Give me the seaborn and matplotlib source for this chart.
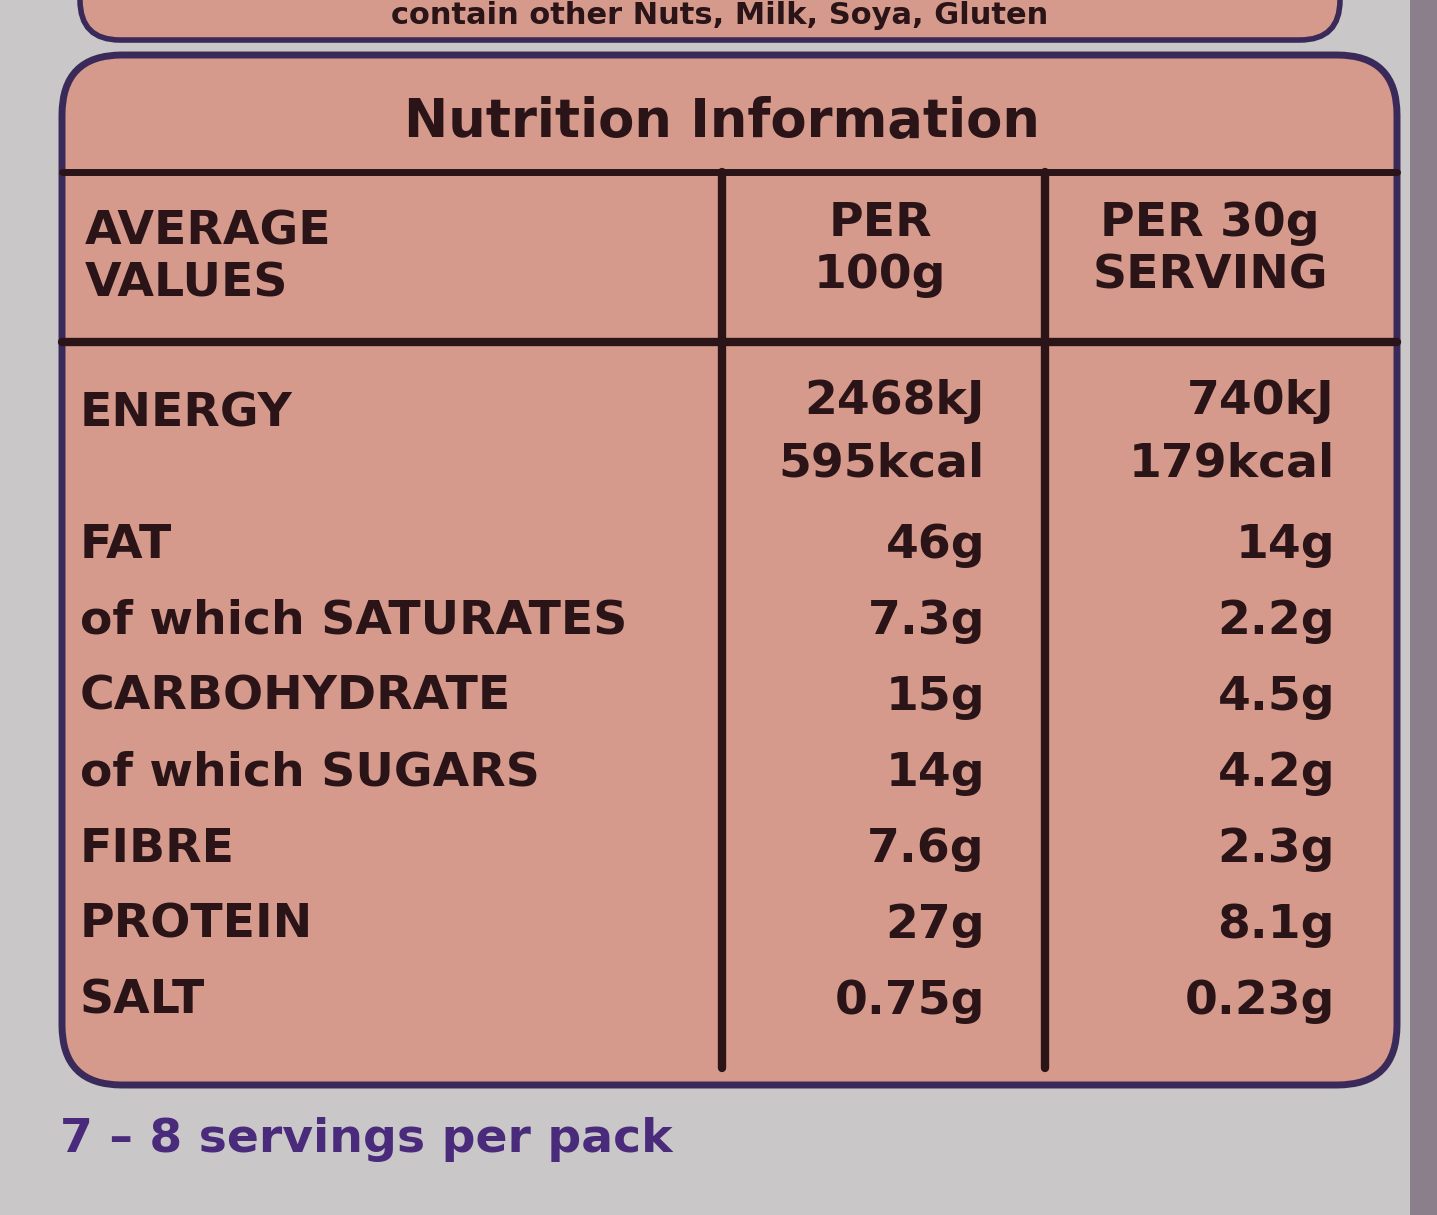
import matplotlib
matplotlib.use("Agg")
import matplotlib.pyplot as plt
from matplotlib.patches import FancyBboxPatch, Rectangle
import seaborn as sns

title = "Nutrition Information"
header_labels = ["AVERAGE\nVALUES", "PER\n100g", "PER 30g\nSERVING"]
nutrients = ["ENERGY", "", "FAT", "of which SATURATES", "CARBOHYDRATE",
             "of which SUGARS", "FIBRE", "PROTEIN", "SALT"]
per_100g = ["2468kJ", "595kcal", "46g", "7.3g", "15g", "14g", "7.6g", "27g", "0.75g"]
per_serving = ["740kJ", "179kcal", "14g", "2.2g", "4.5g", "4.2g", "2.3g", "8.1g", "0.23g"]
footer = "7 – 8 servings per pack"
top_text = "contain other Nuts, Milk, Soya, Gluten"

sns.set_theme(style="white")
fig = plt.figure(figsize=(14.37, 12.15), dpi=100)
fig.patch.set_facecolor("#c9c7c8")
ax = fig.add_axes([0, 0, 1, 1])
ax.set_xlim(0, 1437); ax.set_ylim(1215, 0); ax.axis("off")

pink = "#d59a8b"
purple = "#3a2a5a"
ink = "#2a1418"

ax.add_patch(FancyBboxPatch((80, -60), 1260, 100, boxstyle="round,pad=0,rounding_size=40",
                            fc=pink, ec=purple, lw=4))
ax.text(720, 16, top_text, ha="center", va="center", fontsize=22, weight="bold", color=ink)
ax.add_patch(Rectangle((1410, 0), 30, 1215, fc="#8a7f8a", ec="none"))

ax.add_patch(FancyBboxPatch((62, 55), 1335, 1030, boxstyle="round,pad=0,rounding_size=60",
                            fc=pink, ec=purple, lw=5))
ax.text(722, 122, title, ha="center", va="center", fontsize=38, weight="heavy", color=ink,
        family="DejaVu Sans Condensed" if False else "DejaVu Sans")
ax.plot([62, 1397], [172, 172], color=ink, lw=5)
lw = 6
ax.plot([722, 722], [172, 1068], color=ink, lw=lw)
ax.plot([1045, 1045], [172, 1068], color=ink, lw=lw)
ax.plot([62, 1397], [342, 342], color=ink, lw=lw)

fs = 34
ax.text(85, 258, header_labels[0], ha="left", va="center", fontsize=fs, weight="bold", color=ink, linespacing=1.2)
ax.text(880, 250, header_labels[1], ha="center", va="center", fontsize=fs, weight="bold", color=ink, linespacing=1.2)
ax.text(1210, 250, header_labels[2], ha="center", va="center", fontsize=fs, weight="bold", color=ink, linespacing=1.2)

for i, (n, a, b) in enumerate(zip(nutrients, per_100g, per_serving)):
    if i == 0:
        y = 402
    elif i == 1:
        y = 464
    else:
        y = 545 + (i - 2) * 76
    ny = y + (12 if i == 0 else 0)
    if n:
        ax.text(80, ny, n, ha="left", va="center", fontsize=fs, weight="bold", color=ink)
    ax.text(985, y, a, ha="right", va="center", fontsize=fs, weight="bold", color=ink)
    ax.text(1335, y, b, ha="right", va="center", fontsize=fs, weight="bold", color=ink)

ax.text(60, 1140, footer, ha="left", va="center", fontsize=34, weight="bold", color="#4a2a7a")
fig.savefig("out.png", dpi=100, facecolor=fig.get_facecolor())
